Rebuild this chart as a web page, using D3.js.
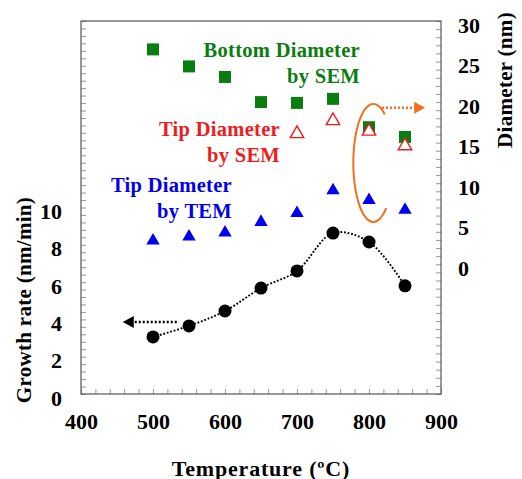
<!DOCTYPE html>
<html>
<head>
<meta charset="utf-8">
<script src="https://cdn.jsdelivr.net/npm/d3@7"></script>
<style>
  body { margin: 0; background: #fff; }
  svg text { font-family: "Liberation Serif", "Times New Roman", serif; font-weight: bold; }
</style>
</head>
<body>
<div id="chart"></div>
<script>
// Data
const temperatures = [500, 550, 600, 650, 700, 750, 800, 850];
const growthRate = [3.06, 3.65, 4.45, 5.68, 6.6, 8.63, 8.15, 5.8];          // nm/min, left axis
const bottomDiamSEM = [26.5, 24.4, 23.1, 20.0, 19.9, 20.4, 16.9, 15.7];     // nm, right axis
const tipTempsSEM = [700, 750, 800, 850];
const tipDiamSEM = [16.1, 17.7, 16.4, 14.6];
const tipDiamTEM = [2.9, 3.4, 3.9, 5.2, 6.3, 9.1, 7.9, 6.7];
const xTicks = [400, 500, 600, 700, 800, 900];
const leftTicks = [0, 2, 4, 6, 8, 10];
const rightTicks = [0, 5, 10, 15, 20, 25, 30];

const width = 522, height = 479;
const frame = { left: 81, right: 441, top: 21, bottom: 394 };

const svg = d3.select("#chart").append("svg")
    .attr("width", width)
    .attr("height", height);

// Scales
const x = d3.scaleLinear().domain([400, 900]).range([frame.left, frame.right]);
const yL = d3.scaleLinear().domain([0, 20]).range([frame.bottom, frame.top]);
const yR = d3.scaleLinear().domain([-16, 30]).range([frame.bottom, frame.top]);

// Minor ticks inside the frame
svg.append("g")
    .attr("transform", `translate(0,${frame.bottom})`)
    .call(d3.axisBottom(x).tickValues(d3.range(400, 901, 20)).tickSize(-5).tickFormat(""))
    .call(g => g.select(".domain").remove())
    .selectAll("line").attr("stroke", "#999");

svg.append("g")
    .attr("transform", `translate(${frame.left},0)`)
    .call(d3.axisLeft(yL).tickValues(d3.range(0, 20.01, 0.4)).tickSize(-5).tickFormat(""))
    .call(g => g.select(".domain").remove())
    .selectAll("line").attr("stroke", "#999");

svg.append("g")
    .attr("transform", `translate(${frame.right},0)`)
    .call(d3.axisRight(yR).tickValues(d3.range(-16, 30.01, 1)).tickSize(-5).tickFormat(""))
    .call(g => g.select(".domain").remove())
    .selectAll("line").attr("stroke", "#999");

// Frame
svg.append("rect")
    .attr("x", frame.left).attr("y", frame.top)
    .attr("width", frame.right - frame.left)
    .attr("height", frame.bottom - frame.top)
    .attr("fill", "none")
    .attr("stroke", "#555")
    .attr("stroke-width", 1.2);

// Tick labels
const xAxis = svg.append("g")
    .attr("transform", `translate(0,${frame.bottom})`)
    .call(d3.axisBottom(x).tickValues(xTicks).tickSize(0).tickPadding(19));
const leftAxis = svg.append("g")
    .attr("transform", `translate(${frame.left},0)`)
    .call(d3.axisLeft(yL).tickValues(leftTicks).tickSize(0).tickPadding(19));
const rightAxis = svg.append("g")
    .attr("transform", `translate(${frame.right},0)`)
    .call(d3.axisRight(yR).tickValues(rightTicks).tickSize(0).tickPadding(17));

[xAxis, leftAxis, rightAxis].forEach(g => {
    g.select(".domain").remove();
    g.selectAll("text")
        .attr("fill", "#000")
        .style("font-size", "22px")
        .style("font-family", "'Liberation Serif', serif")
        .style("font-weight", "bold");
});
leftAxis.selectAll("text").attr("y", 4);
rightAxis.selectAll("text").attr("y", 4);

// Axis titles
svg.append("text")
    .attr("transform", "translate(24,300) rotate(-90)")
    .attr("text-anchor", "middle")
    .attr("dominant-baseline", "central")
    .style("font-size", "21px")
    .style("letter-spacing", "0.3px")
    .text("Growth rate (nm/min)");

svg.append("text")
    .attr("transform", "translate(505,80) rotate(-90)")
    .attr("text-anchor", "middle")
    .attr("dominant-baseline", "central")
    .style("font-size", "21px")
    .style("letter-spacing", "0.3px")
    .text("Diameter (nm)");

svg.append("text")
    .attr("x", 261).attr("y", 468)
    .attr("text-anchor", "middle")
    .attr("dominant-baseline", "central")
    .style("font-size", "22px")
    .style("letter-spacing", "0.8px")
    .text("Temperature (ºC)");

// Growth rate dotted curve
svg.append("path")
    .datum(temperatures.map((t, i) => [t, growthRate[i]]))
    .attr("fill", "none")
    .attr("stroke", "#000")
    .attr("stroke-width", 1.9)
    .attr("stroke-dasharray", "1.8,1.8")
    .attr("d", d3.line().x(d => x(d[0])).y(d => yL(d[1])).curve(d3.curveCatmullRom));

// Arrows
function dottedArrow(x1, x2, y, color, dir) {
    svg.append("line")
        .attr("x1", x1).attr("x2", x2 - dir * 8)
        .attr("y1", y).attr("y2", y)
        .attr("stroke", color)
        .attr("stroke-width", 2.3)
        .attr("stroke-dasharray", "2,2");
    svg.append("path")
        .attr("d", `M${x2},${y} L${x2 - dir * 11},${y - 6} L${x2 - dir * 11},${y + 6} Z`)
        .attr("fill", color);
}
dottedArrow(x(533), x(458), yL(3.86), "#000", -1);
dottedArrow(x(818), x(878), yR(19.3), "#f07020", 1);

// Orange bracket (partial ellipse)
const ecx = x(806), ecy = yR(12.5), erx = 20, ery = 59;
const arcPts = d3.range(-55, -311, -5).map(a => {
    const t = a * Math.PI / 180;
    return [ecx + erx * Math.cos(t), ecy + ery * Math.sin(t)];
});
svg.append("path")
    .attr("d", d3.line().curve(d3.curveCatmullRom)(arcPts))
    .attr("fill", "none")
    .attr("stroke", "#f07020")
    .attr("stroke-width", 2);

// Markers
const square = d3.symbol().type(d3.symbolSquare).size(144);
const tri = d3.symbol().type(d3.symbolTriangle).size(78);

svg.selectAll(".bottom")
    .data(temperatures)
    .join("path")
    .attr("class", "bottom")
    .attr("transform", (d, i) => `translate(${x(d)},${yR(bottomDiamSEM[i])})`)
    .attr("d", square)
    .attr("fill", "#0a7d10");

svg.selectAll(".tipsem")
    .data(tipTempsSEM)
    .join("path")
    .attr("class", "tipsem")
    .attr("transform", (d, i) => `translate(${x(d)},${yR(tipDiamSEM[i])})`)
    .attr("d", tri)
    .attr("fill", "#fff")
    .attr("stroke", "#ee1c1c")
    .attr("stroke-width", 1.4);

svg.selectAll(".tiptem")
    .data(temperatures)
    .join("path")
    .attr("class", "tiptem")
    .attr("transform", (d, i) => `translate(${x(d)},${yR(tipDiamTEM[i])})`)
    .attr("d", tri)
    .attr("fill", "#0000ee");

svg.selectAll(".growth")
    .data(temperatures)
    .join("circle")
    .attr("class", "growth")
    .attr("cx", d => x(d))
    .attr("cy", (d, i) => yL(growthRate[i]))
    .attr("r", 6.5)
    .attr("fill", "#000");

// Series labels
const labels = [
    { lines: ["Bottom Diameter", "by SEM"], x: 360, y: 50, color: "#0a7d10" },
    { lines: ["Tip Diameter", "by SEM"], x: 280, y: 129, color: "#ee1c1c" },
    { lines: ["Tip Diameter", "by TEM"], x: 232, y: 185, color: "#0000ee" }
];
labels.forEach(l => {
    l.lines.forEach((s, k) => {
        svg.append("text")
            .attr("x", l.x)
            .attr("y", l.y + k * 26)
            .attr("text-anchor", "end")
            .attr("dominant-baseline", "central")
            .attr("fill", l.color)
            .style("font-size", "20.5px")
            .style("letter-spacing", "0.3px")
            .text(s);
    });
});
</script>
</body>
</html>
